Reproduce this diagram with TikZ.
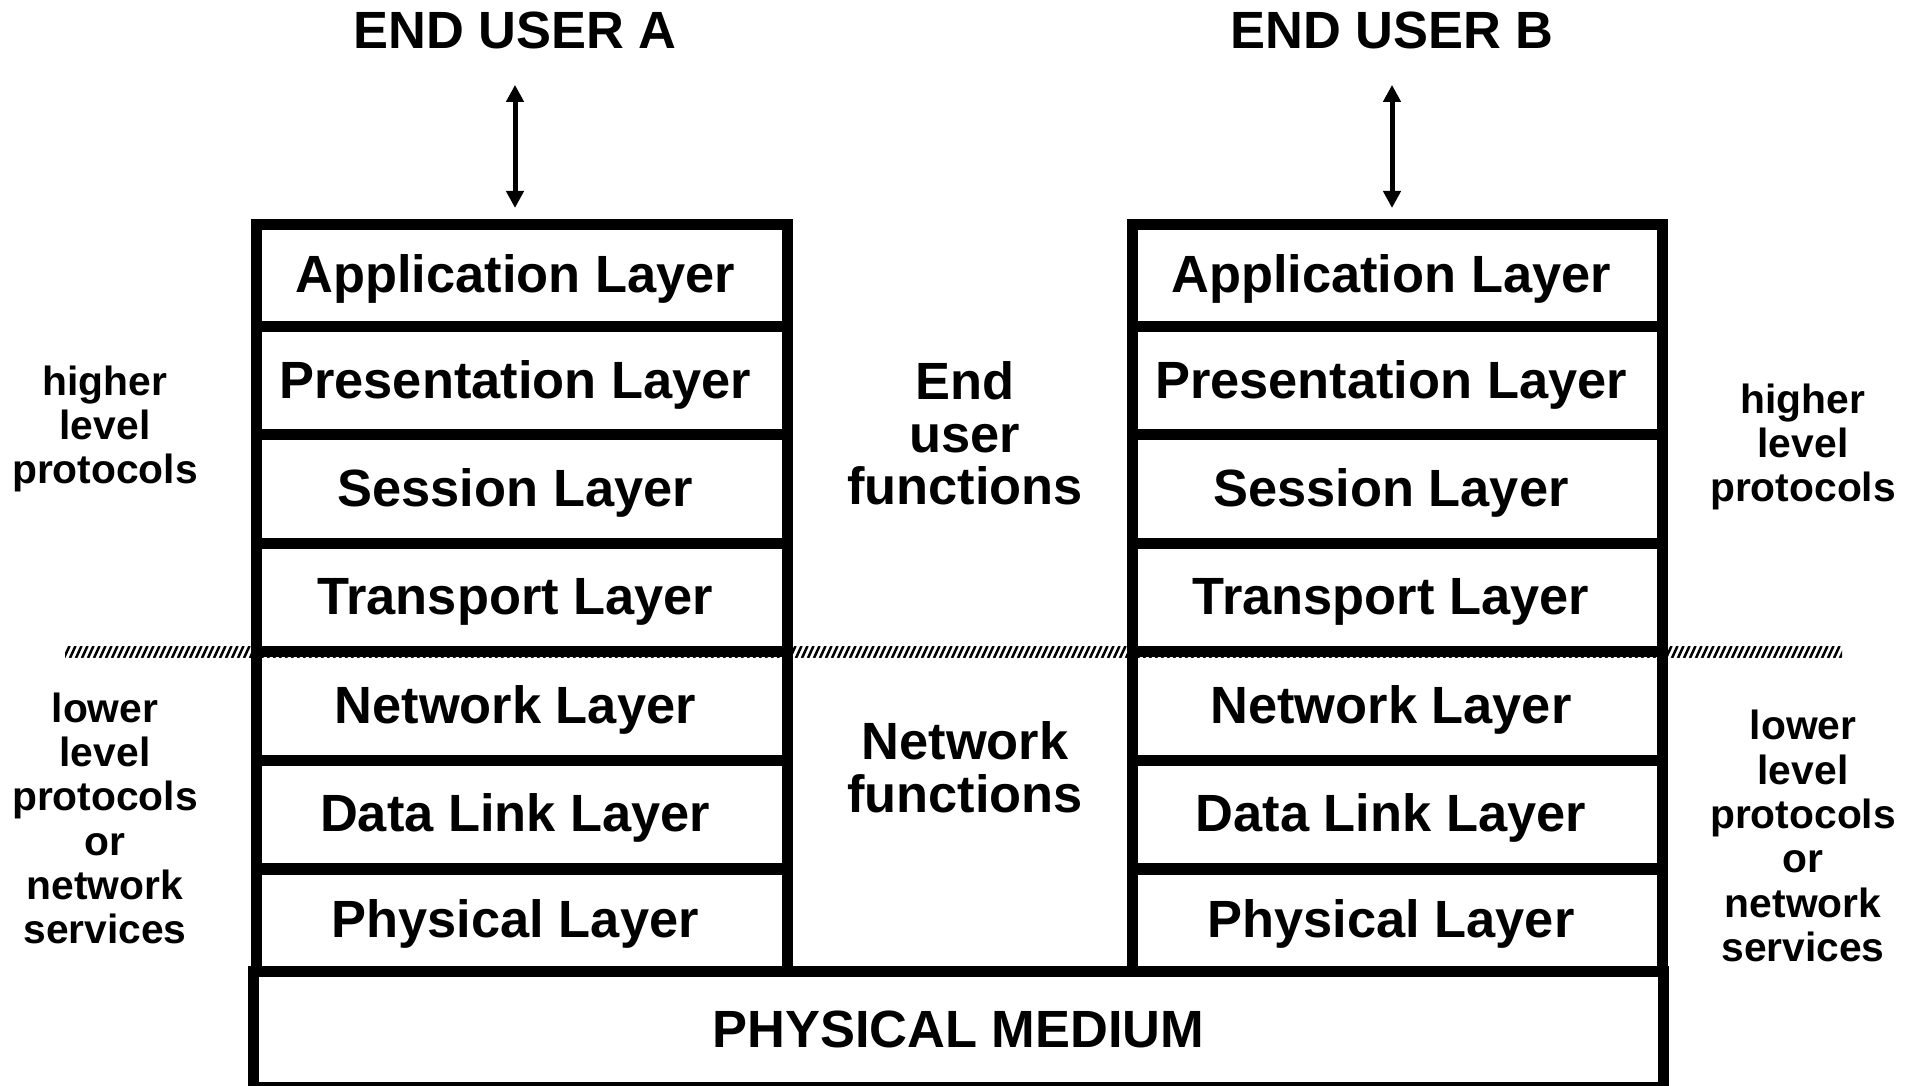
\documentclass[tikz,border=0pt]{standalone}
\usepackage{fontspec}
\setmainfont{Liberation Sans}
\usetikzlibrary{arrows.meta}
\begin{document}
\begin{tikzpicture}[x={(0.01cm,0)}, y={(0,-0.01cm)},
  layer/.style={draw, line width=0.11cm, rectangle, minimum width=5.305cm,
    inner sep=0pt, text height=12.9pt, text depth=3.1pt,
    font=\fontsize{14.9pt}{15pt}\selectfont\bfseries,
    execute at begin node={\hspace*{-0.13cm}}},
  medium/.style={draw, line width=0.11cm, rectangle, minimum width=14.093cm,
    minimum height=1.153cm, inner sep=0pt,
    font=\fontsize{14.9pt}{15pt}\selectfont\bfseries},
  title/.style={inner sep=0pt, font=\fontsize{14.9pt}{15pt}\selectfont\bfseries},
  middle/.style={inner sep=0pt, align=center,
    font=\fontsize{14.9pt}{15pt}\selectfont\bfseries},
  side/.style={inner sep=0pt, align=center,
    font=\fontsize{11.6pt}{12.6pt}\selectfont\bfseries},
  hatchline/.style={line width=0.025cm, black},
  biarrow/.style={{Triangle[length=0.17cm,width=0.17cm]}-{Triangle[length=0.17cm,width=0.17cm]},
    line width=0.05cm, shorten <=0.35cm, shorten >=0.11cm}
]
\useasboundingbox (0,0) rectangle (1921,1086);
\fill[white] (0,0) rectangle (1921,1086);

% hatched boundary between higher and lower level protocols
\begin{scope}
  \clip (65,646.5) rectangle (1842,657.5);
  \foreach \x in {58,64,...,1842}
    \draw[hatchline] (\x,658) -- ++(5.5,-12);
\end{scope}

% the two seven-layer stacks
\foreach \s/\cx in {A/521.75, B/1397.5}{
  \foreach \name/\txt/\ya/\yb in {
      app/Application Layer/224.5/327,
      pres/Presentation Layer/327/435,
      sess/Session Layer/435/543.5,
      trans/Transport Layer/543.5/652,
      net/Network Layer/652/760.5,
      dl/Data Link Layer/760.5/869,
      phys/Physical Layer/869/971.7}{
    \node[layer, minimum height={(\yb-\ya)*0.01cm}] (\name\s)
      at ({\cx},{(\ya+\yb)/2}) {\txt};
  }
}

% shared physical medium
\node[medium] (medium) at (958.4,1029.4) {PHYSICAL MEDIUM};

% end users
\node[title] (userA) at (515,30.6) {END USER A};
\node[title] (userB) at (1392,30.6) {END USER B};
\draw[biarrow] (userA.south) -- (userA.south |- appA.north);
\draw[biarrow] (userB.south) -- (userB.south |- appB.north);

% functions between the stacks
\node[middle] (endfun) at (965,433.5) {End\\user\\functions};
\node[middle] (netfun) at (965,767) {Network\\functions};

% protocol levels at the sides
\node[side] (highL) at (105,429) {higher\\level\\protocols};
\node[side] (lowL) at (105,818.5) {lower\\level\\protocols\\or\\network\\services};
\node[side] (highR) at (1803,447) {higher\\level\\protocols};
\node[side] (lowR) at (1803,836) {lower\\level\\protocols\\or\\network\\services};
\end{tikzpicture}
\end{document}
